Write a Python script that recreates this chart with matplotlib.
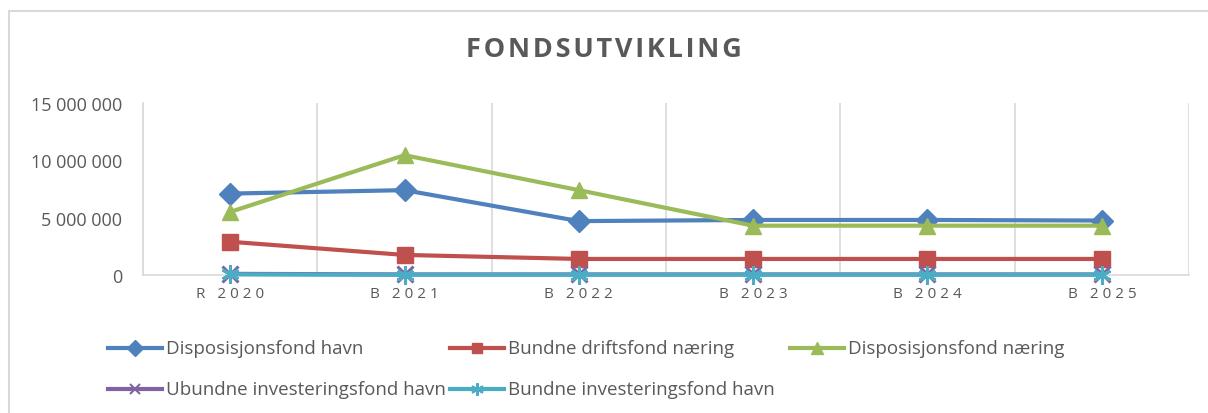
import numpy as np
import matplotlib.pyplot as plt
from matplotlib.lines import Line2D
from matplotlib.patches import Rectangle

categories = ['R 2020', 'B 2021', 'B 2022', 'B 2023', 'B 2024', 'B 2025']
disp_havn = [7100000, 7400000, 4700000, 4800000, 4800000, 4750000]
bundne_drift_naering = [2900000, 1750000, 1400000, 1400000, 1400000, 1400000]
disp_naering = [5500000, 10450000, 7400000, 4300000, 4300000, 4300000]
ubundne_inv_havn = [100000, 50000, 50000, 50000, 50000, 50000]
bundne_inv_havn = [50000, 20000, 20000, 20000, 20000, 20000]
yticks = [0, 5000000, 10000000, 15000000]

series = [
    ('Disposisjonsfond havn', disp_havn, '#4F81BD', 'D', 11),
    ('Bundne driftsfond næring', bundne_drift_naering, '#C0504D', 's', 11),
    ('Disposisjonsfond næring', disp_naering, '#9BBB59', '^', 12),
    ('Ubundne investeringsfond havn', ubundne_inv_havn, '#8064A2', 'x', 11),
    ('Bundne investeringsfond havn', bundne_inv_havn, '#4BACC6', (6, 2, 0), 13),
]
# legend entry anchors (pixels): where each handle line starts
legend_pos = [(108, 349), (450, 349), (790, 349), (108, 390), (450, 390)]

plt.rcParams['font.family'] = ['Open Sans', 'DejaVu Sans']
grey = '#595959'
W, H = 1208, 414

fig = plt.figure(figsize=(W / 100, H / 100), dpi=100)
fig.patches.append(Rectangle((9 / W, -0.1), 1.2, 1.1 - 12 / H, transform=fig.transFigure,
                             fill=False, edgecolor='#D9D9D9', linewidth=1.5))

ax = fig.add_axes([143 / W, 1 - 276 / H, (1189 - 143) / W, (276 - 104) / H])
x = np.arange(len(categories))
for i, (name, vals, col, mk, ms) in enumerate(series):
    thin = mk in ('x', (6, 2, 0))
    ax.plot(x, vals, color=col, lw=3, marker=mk, ms=ms, mew=2.2 if thin else 1,
            mec=col, mfc=col, clip_on=False, zorder=3 + i)
    # legend entry drawn by hand
    lx, ly = legend_pos[i]
    fig.add_artist(Line2D([lx / W, (lx + 54) / W], [1 - ly / H] * 2, color=col, lw=3,
                          transform=fig.transFigure))
    fig.add_artist(Line2D([(lx + 27) / W], [1 - ly / H], marker=mk, ms=ms * 0.7,
                          mew=1.5 if thin else 1, mec=col, mfc=col, color=col,
                          transform=fig.transFigure))
    fig.text((lx + 58) / W, 1 - ly / H, name, ha='left', va='center', fontsize=13.5,
             color=grey)

ax.set_xlim(-0.5, len(categories) - 0.5)
ax.set_ylim(0, 15000000)
ax.set_yticks(yticks)
ax.set_yticklabels([f'{v:,}'.replace(',', ' ') for v in yticks], fontsize=13, color=grey)
ax.set_xticks(x)
ax.set_xticklabels([' '.join(c) for c in categories], fontsize=11, color=grey)
ax.set_xticks(np.arange(-0.5, len(categories)), minor=True)
ax.grid(True, which='minor', axis='x', color='#D9D9D9', lw=1.2)
ax.tick_params(which='both', length=0)
ax.tick_params(axis='y', pad=15)
ax.tick_params(axis='x', pad=8)
for s in ['top', 'right']:
    ax.spines[s].set_visible(False)
for s in ['left', 'bottom']:
    ax.spines[s].set_color('#D9D9D9')
    ax.spines[s].set_linewidth(1.2)

fig.text(0.5, 1 - 50 / H, '\u200a'.join('FONDSUTVIKLING'), ha='center', va='center',
         fontsize=19.5, fontweight='bold', color=grey)

fig.savefig('out.png', dpi=100)
